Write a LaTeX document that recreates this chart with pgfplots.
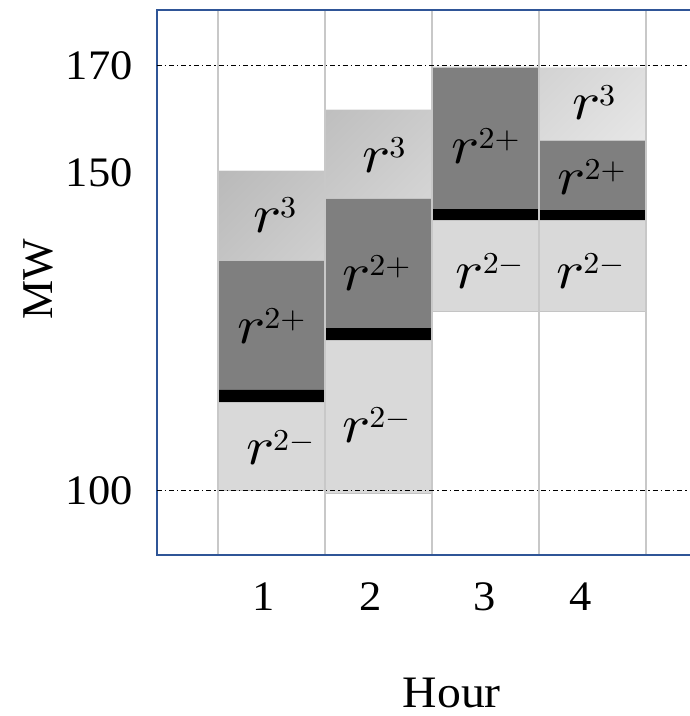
\documentclass[border=0pt]{standalone}
\usepackage[no-math]{fontspec}
\usepackage{graphicx}
\usepackage{pgfplots}
\pgfplotsset{compat=1.18}
\setmainfont{Liberation Serif}[FakeStretch=1.06]
\newfontfamily\plainserif{Liberation Serif}
\definecolor{frameblue}{HTML}{2F5597}
\definecolor{rminus}{HTML}{D9D9D9}
\definecolor{rplus}{HTML}{7F7F7F}
\definecolor{rthreeA}{HTML}{B8B8B8}
\definecolor{rthreeB}{HTML}{EAEAEA}
\definecolor{gridgray}{HTML}{C8C8C8}
\definecolor{edgegray}{HTML}{C4C4C4}
\newcommand{\lab}[1]{\mbox{\scalebox{2.95}[2.7]{$r$}\kern-0.6pt\raisebox{7.3pt}{\scalebox{1.6}[1.52]{$#1$}}}}
\begin{document}
\begin{tikzpicture}
\begin{axis}[
  name=ax,
  scale only axis,
  width=295.15pt, height=272.5pt,
  xmin=-0.073, xmax=5.444,
  ymin=89.41, ymax=179.18,
  axis on top,
  ybar stacked, bar width=1,
  axis line style={frameblue, line width=1pt},
  xtick={0.5,1.5,2.5,3.5,4.5},
  xticklabels={},
  xmajorgrids,
  major grid style={gridgray, line width=0.6pt},
  extra x ticks={0.93,1.93,2.99,3.89},
  extra x tick labels={1,2,3,4},
  extra x tick style={grid=none},
  ytick={100,152.3,170},
  yticklabels={100,150,170},
  extra y ticks={100,170},
  extra y tick labels={},
  extra y tick style={grid=major, major grid style={black, line width=0.5pt, dash pattern=on 2.5pt off 1.5pt on 0.7pt off 1.5pt}},
  major tick length=0pt,
  /pgf/number format/assume math mode=true,
  ticklabel style={font=\fontsize{21}{25}\selectfont, inner sep=0pt},
  yticklabel style={anchor=east, xshift=-11.8pt},
  xticklabel style={anchor=north, yshift=-13.75pt},
  every axis x label/.style={at={(rel axis cs:0.5,0)}, anchor=center, yshift=-69.2pt},
  every axis y label/.style={at={(rel axis cs:0,0.5)}, xshift=-59.2pt, yshift=1.75pt, rotate=90, anchor=center},
  xlabel={\fontsize{22.5}{26}\selectfont Hour},
  ylabel={\plainserif\fontsize{22}{26}\selectfont MW},
]
% invisible base
\addplot[fill=none, draw=none] coordinates {(1,100) (2,99.6) (3,129.5) (4,129.5)};
% r2-
\addplot[fill=rminus, draw=edgegray, line width=0.4pt] coordinates {(1,14.5) (2,25.2) (3,15.0) (4,15.0)};
% black bar
\addplot[fill=black, draw=none] coordinates {(1,2.1) (2,2.0) (3,1.9) (4,1.7)};
% r2+
\addplot[fill=rplus, draw=edgegray, line width=0.4pt] coordinates {(1,21.3) (2,21.4) (3,23.4) (4,11.5)};
% r3
\addplot[draw=white!92!black, line width=0.5pt, top color=rthreeA, bottom color=rthreeB, shading angle=45] coordinates {(1,14.8) (2,14.6) (3,0) (4,12.0)};

\coordinate (a1) at (axis cs:1.03,145.4);
\coordinate (a2) at (axis cs:2.05,155.3);
\coordinate (a3) at (axis cs:4.01,163.9);
\coordinate (b1) at (axis cs:0.997,127.1);
\coordinate (b2) at (axis cs:1.98,135.8);
\coordinate (b3) at (axis cs:3.0,156.7);
\coordinate (b4) at (axis cs:3.99,151.6);
\coordinate (c1) at (axis cs:1.08,107.1);
\coordinate (c2) at (axis cs:1.98,110.8);
\coordinate (c3) at (axis cs:3.04,136.2);
\coordinate (c4) at (axis cs:3.98,136.2);
\end{axis}
\foreach \p in {a1,a2,a3} \node[text=black, inner sep=0pt] at (\p) {\lab{3}};
\foreach \p in {b1,b2,b3,b4} \node[text=black, inner sep=0pt] at (\p) {\lab{{2}{+}}};
\foreach \p in {c1,c2,c3,c4} \node[text=black, inner sep=0pt] at (\p) {\lab{{2}{-}}};
\pgfresetboundingbox
\path[use as bounding box] ([xshift=-78.35pt, yshift=-80.5pt]ax.south west) rectangle ([xshift=-28.5pt, yshift=5pt]ax.north east);
\end{tikzpicture}
\end{document}
